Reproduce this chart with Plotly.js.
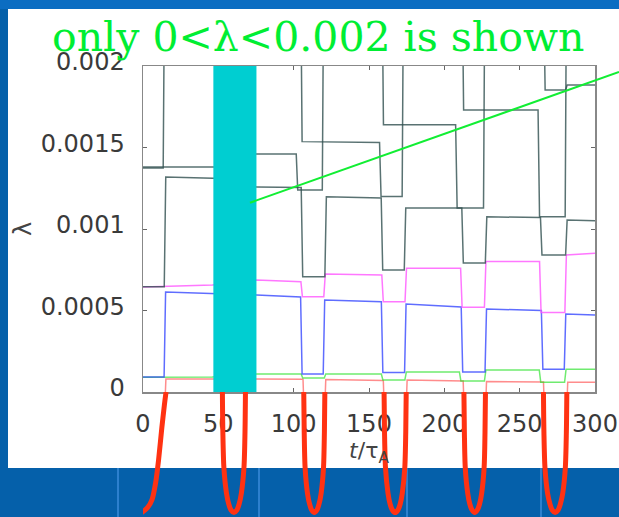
<!DOCTYPE html>
<html>
<head>
<meta charset="utf-8">
<script src="https://cdn.plot.ly/plotly-3.0.1.min.js"></script>
<style>html,body{margin:0;padding:0;background:#0560aa;}#chart{width:619px;height:517px;}</style>
</head>
<body>
<div id="chart"></div>
<script>
// ---- data (t/tau_A, lambda) ----
const xTicks = [0, 50, 100, 150, 200, 250, 300];
const yTicks = [0, 0.0005, 0.001, 0.0015, 0.002];
const yTickText = ['0', '0.0005', '0.001', '0.0015', '0.002'];

const tRed = [0, 14.0, 15.2, 52.2, 53.2, 67.6, 68.6, 106.2, 107.2, 120.3, 121.3, 159.5, 160.5, 174.3, 175.3, 212.5, 213.5, 227.0, 228.0, 265.8, 266.8, 280.9, 281.9, 300];
const lamRed = [-0.0002, -0.0002, 0.00008, 0.00008, -0.0002, -0.0002, 0.00008, 0.000078, -0.0002, -0.0002, 0.000076, 0.00007, -0.0002, -0.0002, 0.000074, 0.000067, -0.0002, -0.0002, 0.000064, 0.000062, -0.0002, -0.0002, 0.00006, 0.00006];

const tGreen = [0, 46, 60, 75.3, 105.0, 106.0, 120.3, 121.3, 158.2, 159.2, 173.8, 174.8, 210.0, 211.0, 226.6, 227.6, 263.0, 264.0, 279.8, 280.8, 300];
const lamGreen = [0.00009, 0.000092, 0.0001, 0.00011, 0.00011, 0.000086, 0.000086, 0.00011, 0.00011, 0.000074, 0.000074, 0.000123, 0.000123, 0.000067, 0.000067, 0.000135, 0.000135, 0.00006, 0.00006, 0.00014, 0.00014];

const tBlue = [0, 14.0, 15.0, 46, 60, 75.3, 104.6, 105.6, 119.6, 120.6, 158.2, 159.2, 173.6, 174.6, 211.2, 212.2, 227.0, 228.0, 264.4, 265.4, 279.6, 280.6, 300];
const lamBlue = [0.000092, 0.000092, 0.000613, 0.000605, 0.0006, 0.000595, 0.000583, 0.00011, 0.00011, 0.000564, 0.000554, 0.00012, 0.00012, 0.00054, 0.000521, 0.000123, 0.000123, 0.000509, 0.0005, 0.00014, 0.00014, 0.000479, 0.000472];

const tMagenta = [0, 46, 75.3, 104.8, 105.8, 120.0, 121.0, 158.5, 159.5, 173.9, 174.9, 210.8, 211.8, 226.6, 227.6, 263.2, 264.2, 280.0, 281.0, 300];
const lamMagenta = [0.000644, 0.000656, 0.000687, 0.000677, 0.000585, 0.000585, 0.000724, 0.000718, 0.000554, 0.000554, 0.000759, 0.000759, 0.00052, 0.00052, 0.0008, 0.0008, 0.000487, 0.000487, 0.00084, 0.000851];

// dark (higher) eigenvalues; 0.0024 = above the shown window
const tGrayA = [0, 14.1, 15.1, 46, 52.5, 53.5, 60, 67.5, 68.5, 75.3, 105.0, 106.0, 120.7, 121.7, 158.1, 159.1, 173.4, 174.4, 211.6, 212.6, 227.2, 228.2, 263.8, 264.8, 280.5, 281.5, 300];
const lamGrayA = [0.000645, 0.000645, 0.001319, 0.001315, 0.00131, 0.00067, 0.00067, 0.00067, 0.00126, 0.001258, 0.001255, 0.000707, 0.000707, 0.001198, 0.00119, 0.000748, 0.000748, 0.001129, 0.001129, 0.000791, 0.000791, 0.001075, 0.00107, 0.00084, 0.00084, 0.001055, 0.00105];
const tGrayB = [0, 13.4, 14.2, 51.5, 52.5, 101.7, 102.7, 119.0, 119.8, 212.0, 212.8, 262.2, 263.2, 280.2, 281.0, 300];
const lamGrayB = [0.001374, 0.001374, 0.0024, 0.0024, 0.00146, 0.00146, 0.001239, 0.001239, 0.0024, 0.0024, 0.00173, 0.00173, 0.001075, 0.001075, 0.0024, 0.0024];
const tGrayC = [0, 49.5, 50.5, 66.5, 67.5, 104.8, 105.6, 157.0, 158.0, 172.0, 172.8, 266.0, 266.9, 280.5, 281.5, 300];
const lamGrayC = [0.00138, 0.00138, 0.00131, 0.00131, 0.0024, 0.0024, 0.001536, 0.00153, 0.0012, 0.0012, 0.0024, 0.0024, 0.001853, 0.001853, 0.001883, 0.001883];
const tGrayD = [0, 158.8, 159.6, 207.5, 208.5, 226.0, 226.8, 300];
const lamGrayD = [0.0024, 0.0024, 0.00164, 0.00164, 0.001129, 0.001129, 0.0024, 0.0024];

// negative excursions of the lowest eigenvalue (drawn below the frame)
const tDip = [-1.5, 3, 6, 8.5, 10.3, 12.5, 14.2, 15.3, null,
  52.7, 53.0, 53.7, 55.4, 56.9, 58.4, 60.35, 62.3, 63.8, 65.3, 67.0, 67.7, 68.0, null,
  106.7, 107.0, 107.6, 109.15, 110.55, 111.95, 113.7, 115.45, 116.85, 118.25, 119.8, 120.4, 120.7, null,
  160.0, 160.3, 160.95, 162.6, 164.0, 165.5, 167.35, 169.2, 170.7, 172.1, 173.75, 174.4, 174.7, null,
  213.0, 213.3, 213.9, 215.5, 216.9, 218.4, 220.15, 221.9, 223.4, 224.8, 226.4, 227.0, 227.3, null,
  265.8, 266.1, 266.8, 268.5, 270.1, 271.6, 273.55, 275.5, 277.0, 278.6, 280.3, 281.0, 281.3];
const lamDip = [-0.000745, -0.00071, -0.00066, -0.00055, -0.00042, -0.00022, -0.00008, 0, null,
  0, -0.000245, -0.000466, -0.00062, -0.000687, -0.000724, -0.00074, -0.000724, -0.000687, -0.00062, -0.000466, -0.000245, 0, null,
  0, -0.000245, -0.000466, -0.00062, -0.000687, -0.000724, -0.00074, -0.000724, -0.000687, -0.00062, -0.000466, -0.000245, 0, null,
  0, -0.000245, -0.000466, -0.00062, -0.000687, -0.000724, -0.00074, -0.000724, -0.000687, -0.00062, -0.000466, -0.000245, 0, null,
  0, -0.000245, -0.000466, -0.00062, -0.000687, -0.000724, -0.00074, -0.000724, -0.000687, -0.00062, -0.000466, -0.000245, 0, null,
  0, -0.000245, -0.000466, -0.00062, -0.000687, -0.000724, -0.00074, -0.000724, -0.000687, -0.00062, -0.000466, -0.000245, 0];

const maskedT = [46.7, 75.3];   // interval hidden by the cyan band
const shownLam = [0, 0.002];

// ---- traces ----
function line(x, y, color, width, opacity) {
  return {type: 'scatter', mode: 'lines', x: x, y: y, xaxis: 'x', yaxis: 'y',
    line: {color: color, width: width}, opacity: opacity, hoverinfo: 'skip'};
}
const grayCol = '#2f4f4f';
const traces = [
  line(tRed, lamRed, '#ff4040', 1.5, 0.6),
  line(tGreen, lamGreen, '#22e022', 1.5, 0.65),
  line(tBlue, lamBlue, '#2a3cff', 1.5, 0.75),
  line(tMagenta, lamMagenta, '#ff55ff', 1.5, 0.8),
  line(tGrayA, lamGrayA, grayCol, 1.5, 0.8),
  line(tGrayB, lamGrayB, grayCol, 1.5, 0.8),
  line(tGrayC, lamGrayC, grayCol, 1.5, 0.8),
  line(tGrayD, lamGrayD, grayCol, 1.5, 0.8),
  {type: 'scatter', mode: 'lines', x: tDip, y: lamDip, xaxis: 'x', yaxis: 'y2',
   line: {color: '#ff3212', width: 5, shape: 'spline', smoothing: 0.8}, connectgaps: false, hoverinfo: 'skip'}
];

const W = 619, H = 517;
const tickFont = {family: 'DejaVu Sans', size: 24, color: '#3a3a3a'};
const layout = {
  width: W, height: H,
  margin: {l: 0, r: 0, t: 0, b: 0, pad: 0},
  paper_bgcolor: '#0560aa',
  plot_bgcolor: 'rgba(0,0,0,0)',
  showlegend: false,
  xaxis: {
    domain: [143 / W, 595 / W], range: [0, 300], anchor: 'y',
    tickmode: 'array', tickvals: xTicks, ticks: 'inside', ticklen: 4, tickcolor: '#666',
    showline: true, linecolor: '#888', linewidth: 1.5, mirror: 'ticks',
    showgrid: false, zeroline: false, tickfont: tickFont, ticklabelstandoff: 10,
    layer: 'below traces',
    title: {text: '<i>t</i>/τ<sub>A</sub>', font: {family: 'DejaVu Sans', size: 22, color: '#444'}, standoff: 0}
  },
  yaxis: {
    domain: [(H - 392) / H, (H - 66) / H], range: shownLam, anchor: 'x',
    tickmode: 'array', tickvals: yTicks, ticktext: yTickText, ticks: 'inside', ticklen: 4, tickcolor: '#666',
    showline: true, linecolor: '#888', linewidth: 1.5, mirror: 'ticks',
    showgrid: false, zeroline: false, tickfont: tickFont, ticklabelstandoff: 12, ticklabelshift: -4,
    title: {text: 'λ', font: {family: 'DejaVu Sans', size: 24, color: '#444'}, standoff: 2}
  },
  yaxis2: {
    domain: [0, (H - 392) / H], range: [-0.000767, 0], anchor: 'x', visible: false
  },
  shapes: [
    {type: 'rect', xref: 'paper', yref: 'paper', x0: 0, x1: 1, y0: (H - 9) / H, y1: 1,
     fillcolor: '#0b6dc2', line: {width: 0}, layer: 'below'},
    {type: 'rect', xref: 'paper', yref: 'paper', x0: 8 / W, x1: 1.01, y0: (H - 468) / H, y1: (H - 9) / H,
     fillcolor: '#ffffff', line: {width: 0}, layer: 'below'},
    {type: 'line', xref: 'paper', yref: 'paper', x0: 118 / W, x1: 118 / W, y0: 0, y1: (H - 468) / H,
     line: {color: 'rgba(70,150,230,0.6)', width: 2}, layer: 'below'},
    {type: 'line', xref: 'paper', yref: 'paper', x0: 259 / W, x1: 259 / W, y0: 0, y1: (H - 468) / H,
     line: {color: 'rgba(70,150,230,0.6)', width: 2}, layer: 'below'},
    {type: 'line', xref: 'paper', yref: 'paper', x0: 407 / W, x1: 407 / W, y0: 0, y1: (H - 468) / H,
     line: {color: 'rgba(70,150,230,0.6)', width: 2}, layer: 'below'},
    {type: 'line', xref: 'paper', yref: 'paper', x0: 541 / W, x1: 541 / W, y0: 0, y1: (H - 468) / H,
     line: {color: 'rgba(70,150,230,0.6)', width: 2}, layer: 'below'},
    {type: 'rect', xref: 'x', yref: 'y', x0: maskedT[0], x1: maskedT[1], y0: shownLam[0], y1: shownLam[1],
     fillcolor: '#00ced1', line: {width: 0}, layer: 'above'},
    {type: 'line', xref: 'paper', yref: 'paper', x0: 250 / W, y0: (H - 202.7) / H, x1: 1, y1: (H - 72) / H,
     line: {color: '#11ee33', width: 2}, layer: 'above'}
  ],
  annotations: [
    {xref: 'paper', yref: 'paper', x: 317.5 / W, y: (H - 37) / H, xanchor: 'center', yanchor: 'middle',
     text: 'only 0&lt;λ&lt;0.002 is shown', showarrow: false,
     font: {family: 'DejaVu Serif', size: 41, color: '#00ee33'}}
  ]
};

Plotly.newPlot('chart', traces, layout, {staticPlot: true, displayModeBar: false});
</script>
</body>
</html>
